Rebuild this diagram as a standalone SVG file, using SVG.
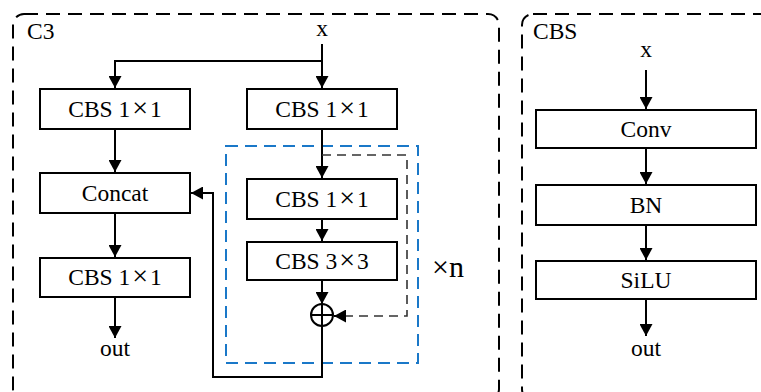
<svg xmlns="http://www.w3.org/2000/svg" width="761" height="392" viewBox="0 0 761 392">
<defs>
<marker id="ah" markerUnits="userSpaceOnUse" markerWidth="13" markerHeight="13" refX="12" refY="6.5" orient="auto">
<path d="M0,0 L12,6.5 L0,13 z" fill="#000"/>
</marker>
<style>
.t{font-size:23.5px;fill:#000;text-anchor:middle}
.lbl{text-anchor:start}
.box{fill:#fff;stroke:#000;stroke-width:2}
.ln{fill:none;stroke:#000;stroke-width:2}
.panel{fill:none;stroke:#000;stroke-width:2;stroke-dasharray:14 8}
.blue{fill:none;stroke:#1a78c8;stroke-width:2;stroke-dasharray:12 7}
.skip{fill:none;stroke:#333;stroke-width:1.6;stroke-dasharray:9 6}
</style>
</defs>
<rect fill="#fff" width="761" height="392"/>
<rect class="panel" x="13" y="14" width="486" height="386" rx="11"/>
<rect class="panel" x="522" y="14" width="260" height="386" rx="11"/>
<rect class="blue" x="226" y="146" width="192" height="217"/>
<text class="t lbl" font-family="Liberation Serif" x="27" y="39">C3</text>
<text class="t lbl" font-family="Liberation Serif" x="533" y="39">CBS</text>
<text class="t" font-family="Liberation Serif" x="322" y="36">x</text>
<text class="t" font-family="Liberation Serif" x="646" y="57">x</text>
<text class="t" font-family="Liberation Serif" x="115" y="356">out</text>
<text class="t" font-family="Liberation Serif" x="646" y="356">out</text>
<text class="lbl" font-family="Liberation Serif" font-size="30" x="432" y="277">×n</text>
<g id="connectors">
<path class="ln" d="M322,44 V61 H115 V88" marker-end="url(#ah)"/>
<path class="ln" d="M322,61 V88" marker-end="url(#ah)"/>
<path class="ln" d="M115,129 V172" marker-end="url(#ah)"/>
<path class="ln" d="M115,213 V257" marker-end="url(#ah)"/>
<path class="ln" d="M115,297 V338" marker-end="url(#ah)"/>
<path class="ln" d="M322,129 V178" marker-end="url(#ah)"/>
<path class="ln" d="M322,219 V241" marker-end="url(#ah)"/>
<path class="ln" d="M322,280 V304" marker-end="url(#ah)"/>
<path class="skip" d="M322,155 H407 V316 H345"/>
<path class="ln" d="M345,316 H334" marker-end="url(#ah)"/>
<path class="ln" d="M322,326 V377 H213 V193 H191" marker-end="url(#ah)"/>
<path class="ln" d="M646,70 V109" marker-end="url(#ah)"/>
<path class="ln" d="M646,148 V184" marker-end="url(#ah)"/>
<path class="ln" d="M646,225 V260" marker-end="url(#ah)"/>
<path class="ln" d="M646,299 V336" marker-end="url(#ah)"/>
</g>
<g id="cbs1">
<rect class="box" x="40" y="89" width="150" height="40"/>
<text class="t" font-family="Liberation Serif" x="115" y="117">CBS 1<tspan dx="2" font-size="28">×</tspan><tspan dx="2">1</tspan></text>
</g>
<g id="cbs2">
<rect class="box" x="247" y="89" width="150" height="40"/>
<text class="t" font-family="Liberation Serif" x="322" y="117">CBS 1<tspan dx="2" font-size="28">×</tspan><tspan dx="2">1</tspan></text>
</g>
<g id="concat">
<rect class="box" x="40" y="173" width="150" height="40"/>
<text class="t" font-family="Liberation Serif" x="115" y="201">Concat</text>
</g>
<g id="cbs3">
<rect class="box" x="40" y="258" width="150" height="39"/>
<text class="t" font-family="Liberation Serif" x="115" y="285">CBS 1<tspan dx="2" font-size="28">×</tspan><tspan dx="2">1</tspan></text>
</g>
<g id="cbs4">
<rect class="box" x="247" y="179" width="150" height="40"/>
<text class="t" font-family="Liberation Serif" x="322" y="207">CBS 1<tspan dx="2" font-size="28">×</tspan><tspan dx="2">1</tspan></text>
</g>
<g id="cbs5">
<rect class="box" x="247" y="242" width="150" height="38"/>
<text class="t" font-family="Liberation Serif" x="322" y="269">CBS 3<tspan dx="2" font-size="28">×</tspan><tspan dx="2">3</tspan></text>
</g>
<g id="add">
<circle class="ln" cx="322" cy="315" r="11"/>
<path class="ln" d="M311,315 H333 M322,304 V326"/>
</g>
<g id="conv">
<rect class="box" x="536" y="110" width="220" height="38"/>
<text class="t" font-family="Liberation Serif" x="646" y="137">Conv</text>
</g>
<g id="bn">
<rect class="box" x="536" y="185" width="220" height="40"/>
<text class="t" font-family="Liberation Serif" x="646" y="213">BN</text>
</g>
<g id="silu">
<rect class="box" x="536" y="261" width="220" height="38"/>
<text class="t" font-family="Liberation Serif" x="646" y="288">SiLU</text>
</g>
</svg>
